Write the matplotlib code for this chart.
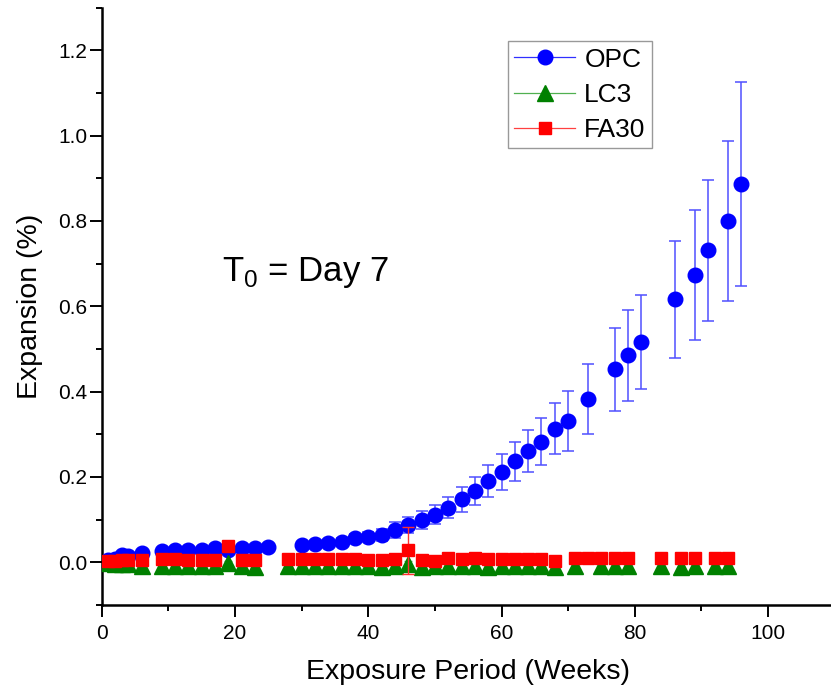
import numpy as np
import matplotlib
matplotlib.use("Agg")
import matplotlib.pyplot as plt
from matplotlib.ticker import MultipleLocator
from matplotlib.lines import Line2D

plt.rcParams['font.family'] = ['Liberation Sans', 'DejaVu Sans']
plt.rcParams['mathtext.fontset'] = 'custom'
plt.rcParams['mathtext.rm'] = 'Liberation Sans'

# OPC (weeks, expansion %, error)
opc_weeks = [1, 2, 3, 4, 6, 9, 11, 13, 15, 17,
             19, 21, 23, 25, 30, 32, 34, 36, 38, 40,
             42, 44, 46, 48, 50, 52, 54, 56, 58, 60,
             62, 64, 66, 68, 70, 73, 77, 79, 81, 86,
             89, 91, 94, 96]
opc_exp = [0.005, 0.008, 0.018, 0.014, 0.021, 0.026, 0.029, 0.029, 0.030, 0.033,
           0.030, 0.034, 0.034, 0.035, 0.040, 0.042, 0.045, 0.048, 0.057, 0.060,
           0.064, 0.076, 0.088, 0.100, 0.112, 0.128, 0.148, 0.167, 0.190, 0.212,
           0.237, 0.261, 0.283, 0.313, 0.331, 0.383, 0.452, 0.485, 0.516, 0.616,
           0.673, 0.731, 0.800, 0.886]
opc_err = [0.004, 0.004, 0.005, 0.005, 0.005, 0.005, 0.005, 0.005, 0.005, 0.005,
           0.005, 0.005, 0.005, 0.005, 0.006, 0.006, 0.007, 0.008, 0.009, 0.011,
           0.014, 0.018, 0.019, 0.021, 0.023, 0.025, 0.029, 0.033, 0.037, 0.042,
           0.046, 0.050, 0.055, 0.060, 0.071, 0.082, 0.098, 0.106, 0.110, 0.136,
           0.152, 0.166, 0.187, 0.239]

# LC3
lc3_weeks = [1, 2, 3, 4, 6, 9, 11, 13, 15, 17,
             19, 21, 23, 28, 30, 32, 34, 36, 38, 40,
             42, 44, 46, 48, 50, 52, 54, 56, 58, 60,
             62, 64, 66, 68, 71, 75, 77, 79, 84, 87,
             89, 92, 94]
lc3_exp = [-0.002, -0.003, -0.004, -0.004, -0.008, -0.008, -0.008, -0.008, -0.009, -0.008,
           -0.002, -0.009, -0.010, -0.008, -0.008, -0.009, -0.008, -0.009, -0.009, -0.009,
           -0.011, -0.009, -0.004, -0.010, -0.009, -0.008, -0.009, -0.008, -0.010, -0.009,
           -0.008, -0.009, -0.009, -0.010, -0.008, -0.009, -0.008, -0.009, -0.008, -0.012,
           -0.009, -0.008, -0.009]
lc3_err = [0.004, 0.004, 0.004, 0.004, 0.006, 0.006, 0.006, 0.006, 0.006, 0.006,
           0.006, 0.006, 0.006, 0.006, 0.006, 0.006, 0.006, 0.006, 0.006, 0.006,
           0.006, 0.006, 0.006, 0.006, 0.006, 0.006, 0.006, 0.006, 0.006, 0.006,
           0.006, 0.006, 0.006, 0.006, 0.006, 0.006, 0.006, 0.006, 0.006, 0.016,
           0.006, 0.006, 0.006]

# FA30
fa30_weeks = [1, 2, 3, 4, 6, 9, 11, 13, 15, 17,
              19, 21, 23, 28, 30, 32, 34, 36, 38, 40,
              42, 44, 46, 48, 50, 52, 54, 56, 58, 60,
              62, 64, 66, 68, 71, 73, 75, 77, 79, 84,
              87, 89, 92, 94]
fa30_exp = [0.002, 0.004, 0.005, 0.005, 0.006, 0.008, 0.007, 0.006, 0.006, 0.006,
            0.038, 0.006, 0.006, 0.007, 0.007, 0.008, 0.008, 0.008, 0.008, 0.006,
            0.005, 0.007, 0.028, 0.005, 0.004, 0.009, 0.008, 0.010, 0.008, 0.007,
            0.007, 0.007, 0.008, 0.004, 0.010, 0.010, 0.009, 0.010, 0.010, 0.010,
            0.010, 0.010, 0.009, 0.009]
fa30_err = [0.003, 0.003, 0.003, 0.003, 0.003, 0.003, 0.003, 0.003, 0.003, 0.003,
            0.004, 0.003, 0.003, 0.003, 0.003, 0.003, 0.003, 0.003, 0.003, 0.003,
            0.003, 0.003, 0.055, 0.003, 0.003, 0.003, 0.003, 0.003, 0.003, 0.003,
            0.003, 0.003, 0.003, 0.003, 0.003, 0.003, 0.003, 0.003, 0.003, 0.003,
            0.003, 0.003, 0.003, 0.003]

fig = plt.figure(figsize=(8.31, 6.93), dpi=100)
ax = fig.add_axes([0.1224, 0.127, 0.882, 0.862])

# error bars + markers only (no connecting lines in the plot)
ax.errorbar(opc_weeks, opc_exp, yerr=opc_err, fmt='none', ecolor='#5050ff',
            elinewidth=1.1, capsize=4, capthick=1.1, zorder=2)
ax.plot(opc_weeks, opc_exp, ls='none', marker='o', ms=10.5,
        mfc='blue', mec='blue', zorder=3)

ax.errorbar(lc3_weeks, lc3_exp, yerr=lc3_err, fmt='none', ecolor='#70b070',
            elinewidth=1.0, capsize=3, capthick=1.0, zorder=4)
ax.plot(lc3_weeks, lc3_exp, ls='none', marker='^', ms=11,
        mfc='green', mec='green', zorder=5)

ax.errorbar(fa30_weeks, fa30_exp, yerr=fa30_err, fmt='none', ecolor='#ff3030',
            elinewidth=1.0, capsize=4, capthick=1.0, zorder=6)
ax.plot(fa30_weeks, fa30_exp, ls='none', marker='s', ms=9.3,
        mfc='red', mec='red', zorder=7)

ax.text(18, 0.66, r'T$_\mathregular{0}$ = Day 7', fontsize=25, va='baseline')

ax.set_xlim(0, 110)
ax.set_ylim(-0.1, 1.3)
ax.xaxis.set_minor_locator(MultipleLocator(10))
ax.yaxis.set_minor_locator(MultipleLocator(0.1))
ax.set_xticks([0, 20, 40, 60, 80, 100])
ax.set_yticks([0.0, 0.2, 0.4, 0.6, 0.8, 1.0, 1.2])
ax.set_yticklabels(['0.0', '0.2', '0.4', '0.6', '0.8', '1.0', '1.2'])

for s in ['top', 'right']:
    ax.spines[s].set_visible(False)
for s in ['left', 'bottom']:
    ax.spines[s].set_linewidth(1.8)

ax.tick_params(which='major', direction='out', length=8.5, width=1.4, labelsize=15)
ax.tick_params(which='minor', direction='out', length=4.5, width=1.4)
ax.tick_params(axis='x', which='major', pad=5)
ax.tick_params(axis='y', which='major', pad=2)

ax.set_xlabel('Exposure Period (Weeks)', fontsize=20.5, labelpad=12)
ax.set_ylabel('Expansion (%)', fontsize=20.5, labelpad=11)

handles = [Line2D([], [], color='#3030ff', lw=0.9, marker='o', ms=10.5, mfc='blue', mec='blue'),
           Line2D([], [], color='#50b050', lw=0.9, marker='^', ms=11, mfc='green', mec='green'),
           Line2D([], [], color='#ff4040', lw=0.9, marker='s', ms=9.3, mfc='red', mec='red')]
leg = ax.legend(handles, ['OPC', 'LC3', 'FA30'], loc='upper left',
                bbox_to_anchor=(0.554, 0.944), borderaxespad=0,
                fontsize=19, frameon=True, fancybox=False, edgecolor='#808080',
                handlelength=2.3, handletextpad=0.35, labelspacing=0.42,
                borderpad=0.25)
leg.get_frame().set_linewidth(1.0)

plt.savefig('out.png', dpi=100)
